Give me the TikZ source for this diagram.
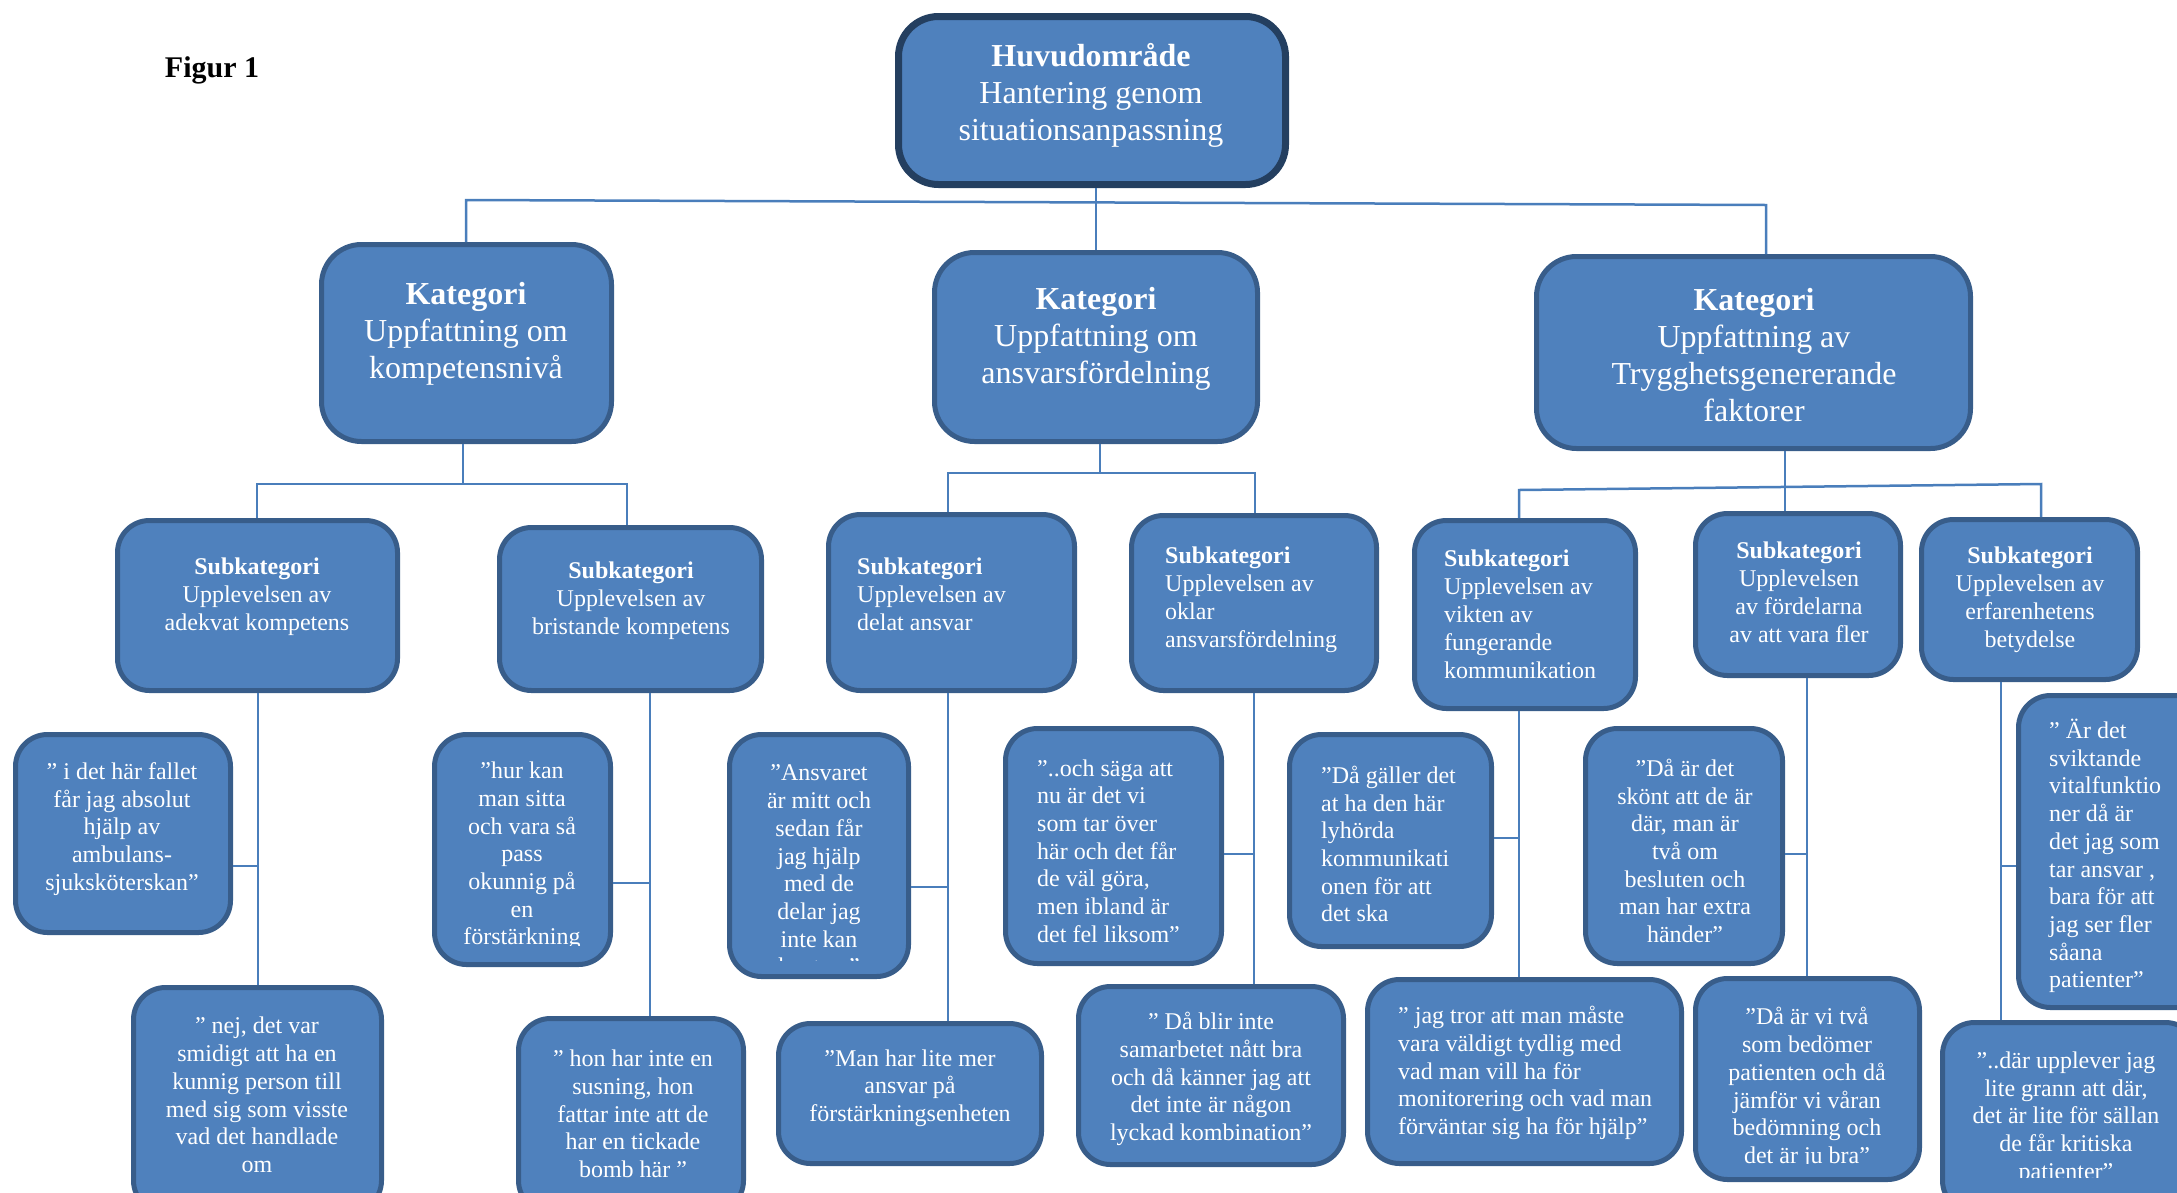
\documentclass[tikz,border=0pt]{standalone}
\usepackage{fontspec}
\setmainfont{Liberation Serif}
\definecolor{boxfill}{HTML}{4F81BD}
\definecolor{boxline}{HTML}{385D8A}
\definecolor{topline}{HTML}{243F60}
\definecolor{conncol}{HTML}{4A7EBB}
\tikzset{
 rb/.style={draw=boxline, fill=boxfill, line width=5pt, rounded corners=32pt, inner sep=0pt},
 topb/.style={rb, draw=topline, line width=7pt, rounded corners=40pt},
 catb/.style={rb, rounded corners=40pt},
 bigt/.style={text=white, font=\fontsize{32}{37}\selectfont, align=center, inner sep=0pt, yshift=-3pt},
 smt/.style={text=white, font=\fontsize{24}{28}\selectfont, inner sep=0pt, yshift=-3pt},
 qt/.style={text=white, font=\fontsize{24}{27.7}\selectfont, inner sep=0pt, yshift=-3pt},
 conn/.style={draw=conncol, line width=2.5pt},
}
\begin{document}
\begin{tikzpicture}[x=1pt,y=-1pt]
\useasboundingbox (0,0) rectangle (2177,1192);
\clip (0,0) rectangle (2177,1192);

\node[font=\fontsize{30}{36}\selectfont\bfseries, inner sep=0pt] (fig) at (212,70) {Figur 1};

% top and categories
\node[topb, minimum width=387pt, minimum height=168pt] (top) at (1092,100.5) {};
\node[catb, minimum width=290pt, minimum height=197pt] (cat1) at (466.5,343) {};
\node[catb, minimum width=323pt, minimum height=189pt] (cat2) at (1096,347) {};
\node[catb, minimum width=434pt, minimum height=192pt] (cat3) at (1753.5,352.5) {};

% subcategories
\node[rb, minimum width=280pt, minimum height=170pt] (s1) at (257.5,605.5) {};
\node[rb, minimum width=262pt, minimum height=163pt] (s2) at (630.5,609) {};
\node[rb, minimum width=246pt, minimum height=176pt] (s3) at (951.5,602.5) {};
\node[rb, minimum width=245pt, minimum height=175pt] (s4) at (1254,603) {};
\node[rb, minimum width=221pt, minimum height=188pt] (s5) at (1525,614.5) {};
\node[rb, minimum width=205pt, minimum height=162pt] (s6) at (1798,594.5) {};
\node[rb, minimum width=216pt, minimum height=160pt] (s7) at (2029.5,599.5) {};

% quotes
\node[rb, minimum width=215pt, minimum height=198pt] (q1a) at (123,833.5) {};
\node[rb, minimum width=248pt, minimum height=225pt] (q1b) at (257.5,1100) {};
\node[rb, minimum width=176pt, minimum height=230pt] (q2a) at (522.5,849.5) {};
\node[rb, minimum width=225pt, minimum height=194pt] (q2b) at (631,1115.5) {};
\node[rb, minimum width=179pt, minimum height=242pt] (q3a) at (819,855.5) {};
\node[rb, minimum width=263pt, minimum height=140pt] (q3b) at (910,1093.5) {};
\node[rb, minimum width=216pt, minimum height=235pt] (q4a) at (1113.5,846) {};
\node[rb, minimum width=265pt, minimum height=178pt] (q4b) at (1211,1075.5) {};
\node[rb, minimum width=202pt, minimum height=212pt] (q5a) at (1390.5,840.5) {};
\node[rb, minimum width=314pt, minimum height=184pt] (q5b) at (1524.5,1071.5) {};
\node[rb, minimum width=197pt, minimum height=235pt] (q6a) at (1684,846) {};
\node[rb, minimum width=224pt, minimum height=201pt] (q6b) at (1807.5,1079) {};
\node[rb, minimum width=219pt, minimum height=312pt] (q7a) at (2128,851.5) {};
\node[rb, minimum width=255pt, minimum height=190pt] (q7b) at (2070,1117.5) {};

% texts
\node[bigt] (topt) at (1091,92) {\textbf{Huvudområde}\\Hantering genom\\situationsanpassning};
\node[bigt] (cat1t) at (466,331) {\textbf{Kategori}\\Uppfattning om\\kompetensnivå};
\node[bigt] (cat2t) at (1096,336) {\textbf{Kategori}\\Uppfattning om\\ansvarsfördelning};
\node[bigt] (cat3t) at (1754,352) {\textbf{Kategori}\\Uppfattning av\\Trygghetsgenererande\\faktorer};

\node[smt, align=center] (s1t) at (257,594) {\textbf{Subkategori}\\Upplevelsen av\\adekvat kompetens};
\node[smt, align=center] (s2t) at (631,598) {\textbf{Subkategori}\\Upplevelsen av\\bristande kompetens};
\node[smt, align=left, anchor=west] (s3t) at (857,591) {\textbf{Subkategori}\\Upplevelsen av\\delat ansvar};
\node[smt, align=left, anchor=west] (s4t) at (1165,597) {\textbf{Subkategori}\\Upplevelsen av\\oklar\\ansvarsfördelning};
\node[smt, align=left, anchor=west] (s5t) at (1444,611) {\textbf{Subkategori}\\Upplevelsen av\\vikten av\\fungerande\\kommunikation};
\node[smt, align=center] (s6t) at (1799,589) {\textbf{Subkategori}\\Upplevelsen\\av fördelarna\\av att vara fler};
\node[smt, align=center] (s7t) at (2030,597) {\textbf{Subkategori}\\Upplevelsen av\\erfarenhetens\\betydelse};

\node[qt, align=center] (q1at) at (122,826) {” i det här fallet\\får jag absolut\\hjälp av\\ambulans-\\sjuksköterskan”};
\node[qt, align=center] (q1bt) at (257,1092) {” nej, det var\\smidigt att ha en\\kunnig person till\\med sig som visste\\vad det handlade\\om};
\begin{scope}
\clip (430,730) rectangle (615,945);
\node[qt, align=center] (q2at) at (522,853) {”hur kan\\man sitta\\och vara så\\pass\\okunnig på\\en\\förstärkning};
\end{scope}
\node[qt, align=center] (q2bt) at (633,1111) {” hon har inte en\\susning, hon\\fattar inte att de\\har en tickade\\bomb här ”};
\begin{scope}
\clip (725,730) rectangle (913,960);
\node[qt, align=center] (q3at) at (819,867) {”Ansvaret\\är mitt och\\sedan får\\jag hjälp\\med de\\delar jag\\inte kan\\hantera”};
\end{scope}
\node[qt, align=center] (q3bt) at (910,1085) {”Man har lite mer\\ansvar på\\förstärkningsenheten};
\node[qt, align=left, anchor=west] (q4at) at (1037,848) {”..och säga att\\nu är det vi\\som tar över\\här och det får\\de väl göra,\\men ibland är\\det fel liksom”};
\node[qt, align=center] (q4bt) at (1211,1076) {” Då blir inte\\samarbetet nått bra\\och då känner jag att\\det inte är någon\\lyckad kombination”};
\node[qt, align=left, anchor=west] (q5at) at (1321,841) {”Då gäller det\\at ha den här\\lyhörda\\kommunikati\\onen för att\\det ska};
\node[qt, align=left, anchor=west] (q5bt) at (1398,1070) {” jag tror att man måste\\vara väldigt tydlig med\\vad man vill ha för\\monitorering och vad man\\förväntar sig ha för hjälp”};
\node[qt, align=center] (q6at) at (1685,848) {”Då är det\\skönt att de är\\där, man är\\två om\\besluten och\\man har extra\\händer”};
\begin{scope}
\clip (1690,975) rectangle (1925,1163);
\node[qt, align=center] (q6bt) at (1807,1085) {”Då är vi två\\som bedömer\\patienten och då\\jämför vi våran\\bedömning och\\det är ju bra”};
\end{scope}
\node[qt, align=left, anchor=west] (q7at) at (2049,853) {” Är det\\sviktande\\vitalfunktio\\ner då är\\det jag som\\tar ansvar ,\\bara för att\\jag ser fler\\såana\\patienter”};
\begin{scope}
\clip (1938,1018) rectangle (2177,1177);
\node[qt, align=center] (q7bt) at (2066,1115) {”..där upplever jag\\lite grann att där,\\det är lite för sällan\\de får kritiska\\patienter”};
\end{scope}

% connectors level 0
\coordinate (b0l) at (466,200);
\coordinate (b0r) at (1766,205);
\coordinate (b0c) at (1096,202.4);
\draw[conn] (b0l |- cat1.north) -- (b0l) -- (b0r) -- (b0r |- cat3.north);
\draw[conn] (b0c |- top.south) -- (b0c |- cat2.north);

% category 1
\coordinate (b1c) at (463,484);
\coordinate (b1l) at (257,484);
\coordinate (b1r) at (627,484);
\draw[conn] (b1c |- cat1.south) -- (b1c);
\draw[conn] (b1l |- s1.north) -- (b1l) -- (b1r) -- (b1r |- s2.north);

% category 2
\coordinate (b2c) at (1100,473);
\coordinate (b2l) at (948,473);
\coordinate (b2r) at (1255,473);
\draw[conn] (b2c |- cat2.south) -- (b2c);
\draw[conn] (b2l |- s3.north) -- (b2l) -- (b2r) -- (b2r |- s4.north);

% category 3
\coordinate (b3l) at (1519,490);
\coordinate (b3r) at (2041,484);
\coordinate (b3c) at (1785,487);
\draw[conn] (b3c |- cat3.south) -- (b3c |- s6.north);
\draw[conn] (b3l |- s5.north) -- (b3l) -- (b3r) -- (b3r |- s7.north);

% subcategory to quotes
\coordinate (v1) at (258,866);
\draw[conn] (v1 |- s1.south) -- (v1 |- q1b.north);
\draw[conn] (q1a.east |- v1) -- (v1);
\coordinate (v2) at (650,883);
\draw[conn] (v2 |- s2.south) -- (v2 |- q2b.north);
\draw[conn] (q2a.east |- v2) -- (v2);
\coordinate (v3) at (948,887);
\draw[conn] (v3 |- s3.south) -- (v3 |- q3b.north);
\draw[conn] (q3a.east |- v3) -- (v3);
\coordinate (v4) at (1254,854);
\draw[conn] (v4 |- s4.south) -- (v4 |- q4b.north);
\draw[conn] (q4a.east |- v4) -- (v4);
\coordinate (v5) at (1519,838);
\draw[conn] (v5 |- s5.south) -- (v5 |- q5b.north);
\draw[conn] (q5a.east |- v5) -- (v5);
\coordinate (v6) at (1807,854);
\draw[conn] (v6 |- s6.south) -- (v6 |- q6b.north);
\draw[conn] (q6a.east |- v6) -- (v6);
\coordinate (v7) at (2001,866);
\draw[conn] (v7 |- s7.south) -- (v7 |- q7b.north);
\draw[conn] (v7) -- (q7a.west |- v7);
\end{tikzpicture}
\end{document}
